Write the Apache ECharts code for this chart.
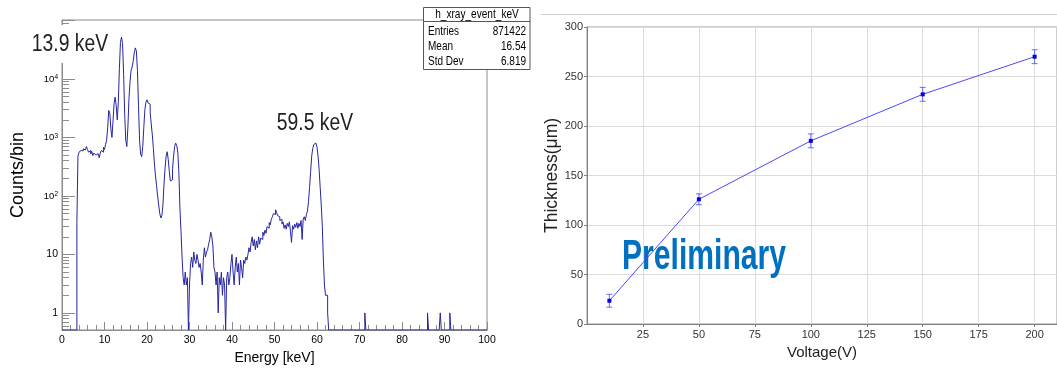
<!DOCTYPE html>
<html>
<head>
<meta charset="utf-8">
<title>X-ray spectrum / thickness</title>
<script src="https://cdn.jsdelivr.net/npm/echarts@6/dist/echarts.min.js"></script>
</head>
<body style="margin:0;background:#fff">
<div id="main" style="width:1057px;height:370px"></div>
<script>
// ---- left: energy spectrum, counts per 0.25 keV bin from 0 keV ----
var binWidth = 0.25;
var lowCounts = [
  0, 0, 0, 0,                 // 0 keV
  0, 0, 0, 0,                 // 1
  0, 0, 0, 0,                 // 2
  0, 0, 35, 480,              // 3
  560, 600, 620, 590,         // 4
  640, 610, 650, 700,         // 5
  620, 560, 600, 520,         // 6
  580, 490, 540, 500,         // 7
  470, 530, 510, 450,         // 8
  540, 600, 560, 680,         // 9
  620, 760, 900, 1500,        // 10
  2900, 2600, 1400, 1000,     // 11
  1900, 3800, 4900, 3500,     // 12
  2000, 4000, 15000, 42000,   // 13
  52000, 40000, 12000, 2500,  // 14
  900, 700, 1500, 4500,       // 15
  9000, 14000, 16000, 20000,  // 16
  28000, 34000, 30000, 14000, // 17
  3500, 900, 520, 470,        // 18
  700, 1500, 3000, 4000,      // 19
  4400, 3900, 3700, 2600,     // 20
  1700, 1100, 650, 350,       // 21
  220, 150, 100, 70,          // 22
  50, 42, 46, 70,             // 23
  160, 300, 480, 570,         // 24
  420, 260, 180, 190,         // 25
  280, 480, 700, 800,         // 26
  720, 560, 250, 60,          // 27
  25, 9, 4, 3,                // 28
  5, 3, 4, 0,                 // 29
  3, 7, 9, 6,                 // 30
  11, 8, 7, 10,               // 31
  8, 6, 7, 5,                 // 32
  3, 8, 13, 9,                // 33
  11, 12, 15, 18,             // 34
  24, 20, 14, 6,              // 35
  5, 3, 5, 1,                 // 36
  4, 3, 5, 2,                 // 37
  4, 3, 0, 4,                 // 38
  5, 3, 4, 7,                 // 39
  10, 5, 3, 6,                // 40
  9, 5, 7, 3,                 // 41
  8, 6, 4, 8,                 // 42
  7, 9, 8, 10,                // 43
  13, 11, 16, 20,             // 44
  14, 18, 12, 17,             // 45
  13, 20, 15, 19,             // 46
  18, 24, 21, 26,             // 47
  23, 30, 28, 35,             // 48
  32, 40, 44, 50,             // 49
  48, 58, 52, 46,             // 50
  44, 38, 40, 33,             // 51
  36, 28, 32, 27,             // 52
  34, 30, 36, 25,             // 53
  16, 31, 27, 33,             // 54
  29, 35, 28, 34,             // 55
  30, 38, 18, 40,             // 56
  44, 38, 48, 55,             // 57
  80, 140, 260, 480,          // 58
  650, 760, 800, 780,         // 59
  680, 480, 280, 140,         // 60
  70, 30, 8, 3,               // 61
  2, 2, 1, 0                  // 62
];
// single counts above 63 keV
var tailEnergy = [71.25, 86.0, 89.0, 91.25];
var tailCounts = [1, 1, 1, 1];
var decadeTicks = [1, 10, 100, 1000, 10000];
var minorCountTicks = [0.6, 0.7, 0.8, 0.9, 2, 3, 4, 5, 6, 7, 8, 9, 20, 30, 40, 50, 60, 70, 80, 90,
  200, 300, 400, 500, 600, 700, 800, 900, 2000, 3000, 4000, 5000, 6000, 7000, 8000, 9000,
  20000, 30000, 40000, 50000, 60000, 70000, 80000, 90000, 100000];
var statsRows = ['Entries', 'Mean', 'Std Dev'];
var statsValues = ['871422', '16.54', '6.819'];

// ---- right: thickness vs voltage ----
var voltage = [10, 50, 100, 150, 200];
var thickness = [23.5, 126, 185, 232, 270];
var thicknessErr = [6.5, 5.5, 7, 7, 7];

var yMin = 0.51, yMax = 1.02e5;
var SANS = "'Liberation Sans', Arial, sans-serif";

var nBins = Math.round(100 / binWidth);
var bins = [];
for (var i = 0; i < nBins; i++) bins.push(lowCounts[i] || 0);
tailEnergy.forEach(function (e, k) { bins[Math.round(e / binWidth)] = tailCounts[k]; });
var histData = bins.map(function (c, i) { return [i * binWidth, c > 0 ? c : yMin]; });
histData.push([100, yMin]);

var thickData = voltage.map(function (v, i) { return [v, thickness[i]]; });
var errData = voltage.map(function (v, i) { return [v, thickness[i] - thicknessErr[i], thickness[i] + thicknessErr[i]]; });

var chart = echarts.init(document.getElementById('main'));
var errColor = 'rgba(60,60,255,0.75)';

function label(text, x, y, size, align, sx, z, color) {
  return { type: 'text', x: x, y: y, z: z, scaleX: sx,
    style: { text: text, font: size + 'px ' + SANS, fill: color || '#000',
      textAlign: align, textVerticalAlign: 'middle', align: align, verticalAlign: 'middle' } };
}

var statsText = [label('h_xray_event_keV', 477, 14.5, 12, 'center', 0.84, 61)];
statsRows.forEach(function (r, k) {
  statsText.push(label(r, 428, 31.5 + k * 15.2, 12.5, 'left', 0.8, 61));
  statsText.push(label(statsValues[k], 526, 31.5 + k * 15.2, 12.5, 'right', 0.8, 61));
});

chart.setOption({
  animation: false,
  grid: [
    { left: 62, top: 20, width: 425, height: 310, show: true, borderColor: '#8c8c8c', borderWidth: 1, backgroundColor: 'transparent' },
    { left: 587, top: 27, right: -4, bottom: 46, show: true, borderColor: '#9a9a9a', borderWidth: 1, backgroundColor: 'transparent' }
  ],
  xAxis: [
    {
      type: 'value', gridIndex: 0, min: 0, max: 100, interval: 10,
      name: 'Energy [keV]', nameLocation: 'middle', nameGap: 18,
      nameTextStyle: { fontFamily: SANS, fontSize: 14, color: '#000' },
      axisLine: { show: true, lineStyle: { color: '#8c8c8c' } },
      axisTick: { show: true, inside: true, length: 8, lineStyle: { color: '#8c8c8c' } },
      minorTick: { show: true, splitNumber: 5, length: 5, lineStyle: { color: '#8c8c8c' } },
      axisLabel: { fontFamily: SANS, fontSize: 10.5, color: '#000', margin: 5 },
      splitLine: { show: false }
    },
    {
      type: 'value', gridIndex: 1, min: 0, max: 210, interval: 25,
      name: 'Voltage(V)', nameLocation: 'middle', nameGap: 20,
      nameTextStyle: { fontFamily: SANS, fontSize: 15, color: '#222' },
      axisLine: { show: true, lineStyle: { color: '#808080' } },
      axisTick: { show: true, length: 3, lineStyle: { color: '#808080' } },
      axisLabel: { fontFamily: SANS, fontSize: 11, color: '#333', margin: 5, showMinLabel: false, showMaxLabel: false },
      splitLine: { show: true, lineStyle: { color: '#dcdcdc' } }
    }
  ],
  yAxis: [
    {
      type: 'log', logBase: 10, gridIndex: 0, min: yMin, max: yMax, position: 'left',
      name: 'Counts/bin', nameLocation: 'middle', nameGap: 35, nameRotate: 90,
      nameTextStyle: { fontFamily: SANS, fontSize: 18, color: '#000' },
      axisLine: { show: true, lineStyle: { color: '#8c8c8c' } },
      axisTick: { show: true, inside: true, length: 13, customValues: decadeTicks.concat([100000]), lineStyle: { color: '#8c8c8c' } },
      axisLabel: {
        customValues: decadeTicks, margin: 4, color: '#000', fontFamily: SANS, fontSize: 10.5,
        formatter: function (v) {
          if (v < 100) return String(Math.round(v));
          return '{b|10}{s|' + Math.round(Math.log10(v)) + '}';
        },
        rich: {
          b: { fontFamily: SANS, fontSize: 9.5, color: '#000' },
          s: { fontFamily: SANS, fontSize: 6.5, color: '#000', verticalAlign: 'top' }
        }
      },
      splitLine: { show: false }
    },
    {
      type: 'log', logBase: 10, gridIndex: 0, min: yMin, max: yMax, position: 'left', offset: 0,
      axisLine: { show: false },
      axisTick: { show: true, inside: true, length: 7, customValues: minorCountTicks, lineStyle: { color: '#8c8c8c' } },
      axisLabel: { show: false },
      splitLine: { show: false }
    },
    {
      type: 'value', gridIndex: 1, min: 0, max: 300, interval: 50,
      name: 'Thickness(μm)', nameLocation: 'middle', nameGap: 26, nameRotate: 90,
      nameTextStyle: { fontFamily: SANS, fontSize: 17.5, color: '#222' },
      axisLine: { show: true, lineStyle: { color: '#808080' } },
      axisTick: { show: true, length: 3, lineStyle: { color: '#808080' } },
      axisLabel: { fontFamily: SANS, fontSize: 11, color: '#333', margin: 4 },
      splitLine: { show: true, lineStyle: { color: '#dcdcdc' } }
    }
  ],
  series: [
    {
      name: 'h_xray_event_keV', type: 'line', xAxisIndex: 0, yAxisIndex: 0,
      step: 'end', data: histData, showSymbol: false, symbol: 'none', silent: true,
      lineStyle: { color: '#2626a4', width: 1 }, z: 3
    },
    {
      name: 'thickness', type: 'line', xAxisIndex: 1, yAxisIndex: 2, data: thickData,
      symbol: 'rect', symbolSize: 4, itemStyle: { color: '#0000e0' },
      lineStyle: { color: '#4848ff', width: 1 }, z: 4
    },
    {
      name: 'error', type: 'custom', xAxisIndex: 1, yAxisIndex: 2, data: errData,
      encode: { x: 0, y: [1, 2] }, z: 3,
      renderItem: function (params, api) {
        var top = api.coord([api.value(0), api.value(2)]);
        var bot = api.coord([api.value(0), api.value(1)]);
        var w = 3;
        var st = { stroke: errColor, lineWidth: 1 };
        return { type: 'group', children: [
          { type: 'line', shape: { x1: top[0], y1: top[1], x2: bot[0], y2: bot[1] }, style: st },
          { type: 'line', shape: { x1: top[0] - w, y1: top[1], x2: top[0] + w, y2: top[1] }, style: st },
          { type: 'line', shape: { x1: bot[0] - w, y1: bot[1], x2: bot[0] + w, y2: bot[1] }, style: st }
        ]};
      }
    }
  ],
  graphic: [
    { type: 'rect', z: 50, shape: { x: 27, y: 25, width: 86, height: 38 }, style: { fill: '#fff' } },
    label('13.9 keV', 70, 44.5, 23, 'center', 0.84, 51, '#222'),
    label('59.5 keV', 315, 123.5, 23, 'center', 0.84, 51, '#222'),
    { type: 'rect', z: 60, shape: { x: 423.5, y: 7.5, width: 106.5, height: 62 }, style: { fill: '#fff', stroke: '#555', lineWidth: 1 } },
    { type: 'line', z: 61, shape: { x1: 423.5, y1: 21.5, x2: 530, y2: 21.5 }, style: { stroke: '#555', lineWidth: 1 } },
    { type: 'line', z: 1, shape: { x1: 541, y1: 14.5, x2: 1057, y2: 14.5 }, style: { stroke: '#cfcfcf', lineWidth: 1 } },
    { type: 'text', z: 1, x: 704, y: 257, scaleX: 0.7,
      style: { text: 'Preliminary', font: 'bold 43px ' + SANS, fill: '#0070c0', textAlign: 'center', textVerticalAlign: 'middle', align: 'center', verticalAlign: 'middle' } }
  ].concat(statsText)
});
</script>
</body>
</html>
